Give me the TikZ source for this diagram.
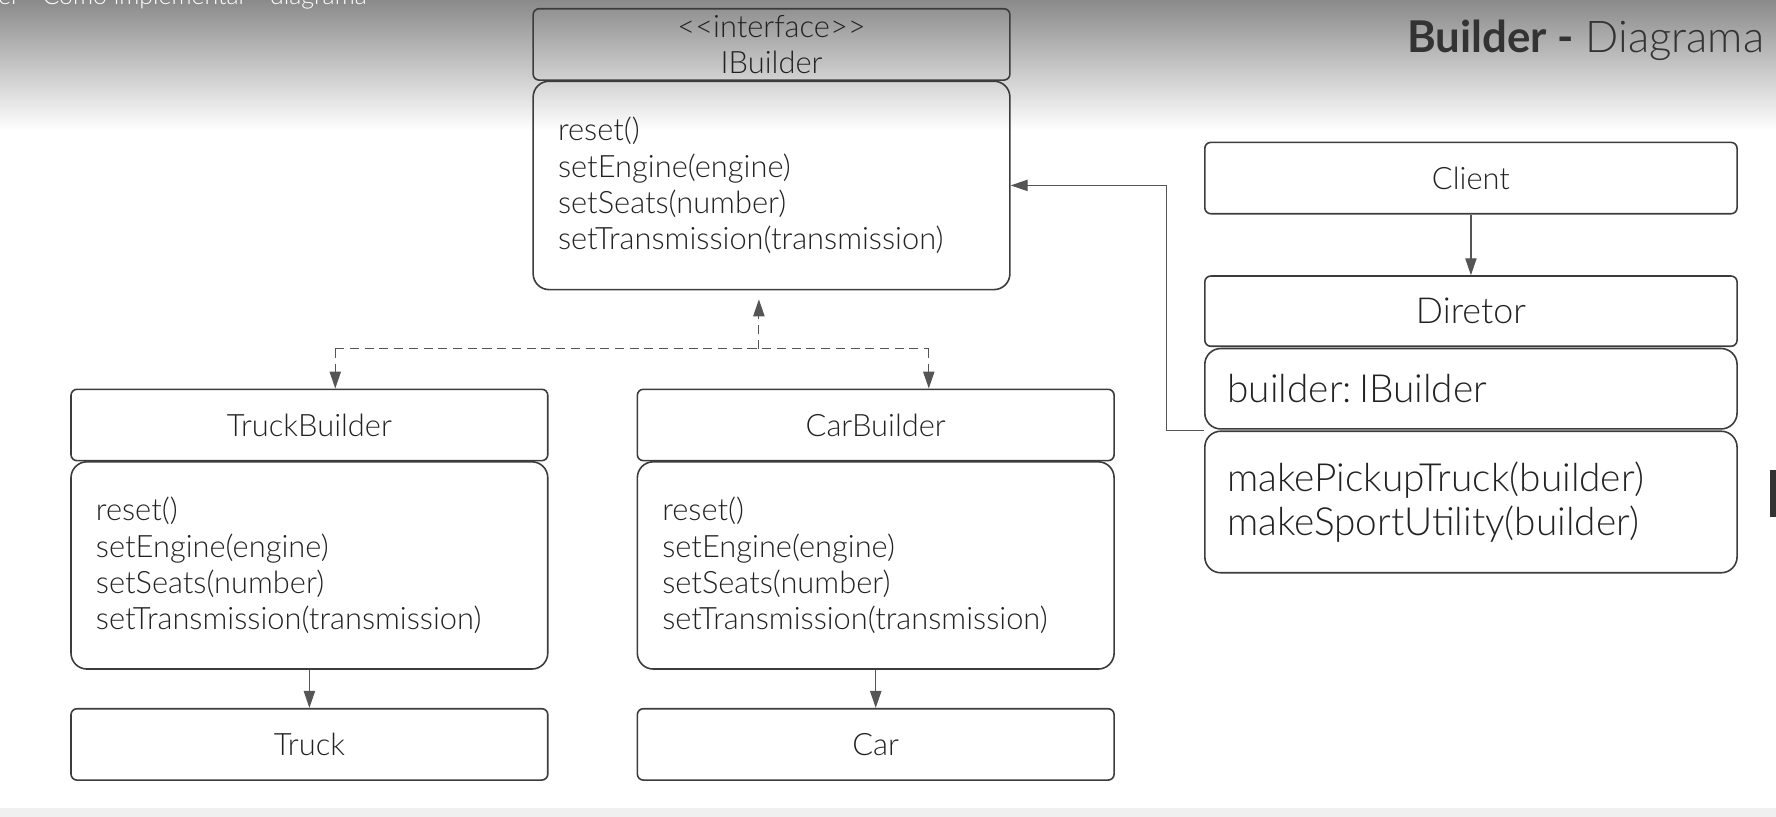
\documentclass[tikz,border=0pt]{standalone}
\usepackage{fontspec}
\setmainfont{Lato}[UprightFont=* Light, BoldFont=* Bold]
\usetikzlibrary{arrows.meta}
\usetikzlibrary{positioning}

\definecolor{boxline}{HTML}{3C3C3C}
\definecolor{arrline}{HTML}{555555}
\definecolor{textgray}{HTML}{222222}
\definecolor{titlegray}{HTML}{333333}
\definecolor{topgray}{HTML}{8A8A8A}

\tikzset{
  cls/.style={draw=boxline, line width=0.8pt, rounded corners=3pt, minimum width=8.42cm, minimum height=1.26cm, inner sep=0pt, anchor=north west, text=textgray, font=\fontsize{15.5}{18.2}\selectfont},
  meth/.style={cls, rounded corners=8pt, align=left, text width=7.54cm, inner xsep=0.44cm},
  big/.style={minimum width=9.4cm, text width=8.6cm, inner xsep=0.4cm, font=\fontsize{19.5}{22.1}\selectfont},
  arr/.style={draw=arrline, line width=0.6pt, -{Triangle[length=0.3cm,width=0.2cm]}},
  dasharr/.style={arr, dash pattern=on 0.16cm off 0.1cm},
  dashline/.style={draw=arrline, line width=0.6pt, dash pattern=on 0.16cm off 0.1cm}
}

\begin{document}
\begin{tikzpicture}[x=0.02cm, y=-0.02cm]

\useasboundingbox (0,0) rectangle (1568,721);

% video frame
\shade[top color=topgray, bottom color=white] (0,0) rectangle (1568,115);
\fill[black!6] (0,713) rectangle (1568,721);
\fill[black!80] (1563,415) rectangle (1568,456);
\node[anchor=base west, inner sep=0pt, text=white, font=\fontsize{12.5}{12.5}\selectfont] (caption) at (-2,4) {er - Como implementar - diagrama};
\node[anchor=base east, inner sep=0pt, text=titlegray, font=\fontsize{22}{22}\selectfont] (title) at (1558,46) {\textbf{Builder -} Diagrama};

% interface
\node[cls, align=center] (ihead) at (470,7) {<{}<interface>{}>\\IBuilder};
\node[meth, minimum height=3.68cm] (ibody) at (470,71) {reset()\\setEngine(engine)\\setSeats(number)\\setTransmission(transmission)};

% builders
\node[cls] (tbhead) at (62,343) {TruckBuilder};
\node[meth, minimum height=3.66cm] (tbbody) at (62,407) {reset()\\setEngine(engine)\\setSeats(number)\\setTransmission(transmission)};
\node[cls] (cbhead) at (562,343) {CarBuilder};
\node[meth, minimum height=3.66cm] (cbbody) at (562,407) {reset()\\setEngine(engine)\\setSeats(number)\\setTransmission(transmission)};

% products
\node[cls] (truck) at (62,625) {Truck};
\node[cls] (car) at (562,625) {Car};

% client and director
\node[cls, minimum width=9.4cm] (client) at (1063,125) {Client};
\node[cls, big, align=center, minimum height=1.24cm, font=\fontsize{18}{22}\selectfont] (diretor) at (1063,243) {Diretor};
\node[meth, big, minimum height=1.42cm] (dattr) at (1063,307) {builder:\kern0.18em IBuilder};
\node[meth, big, minimum height=2.5cm] (dmeth) at (1063,380) {makePickupTruck(builder)\\makeSportUtility(builder)};

% realization
\coordinate (split) at (670,308);
\coordinate (tjoin) at (296,308);
\coordinate (cjoin) at (820,308);
\draw[dasharr, shorten >=4.5pt] (split) -- (ibody.south -| split);
\draw[dashline] (tjoin) -- (cjoin);
\draw[dasharr] (tjoin) -- (tjoin |- tbhead.north);
\draw[dasharr] (cjoin) -- (cjoin |- cbhead.north);

% builds
\draw[arr] (tbbody) -- (truck);
\draw[arr] (cbbody) -- (car);

% uses
\draw[arr] (client) -- (diretor);
\coordinate (jog) at (1030,380);
\draw[arr] (dmeth.north west) -- (jog) |- (ibody.east);

\end{tikzpicture}
\end{document}
